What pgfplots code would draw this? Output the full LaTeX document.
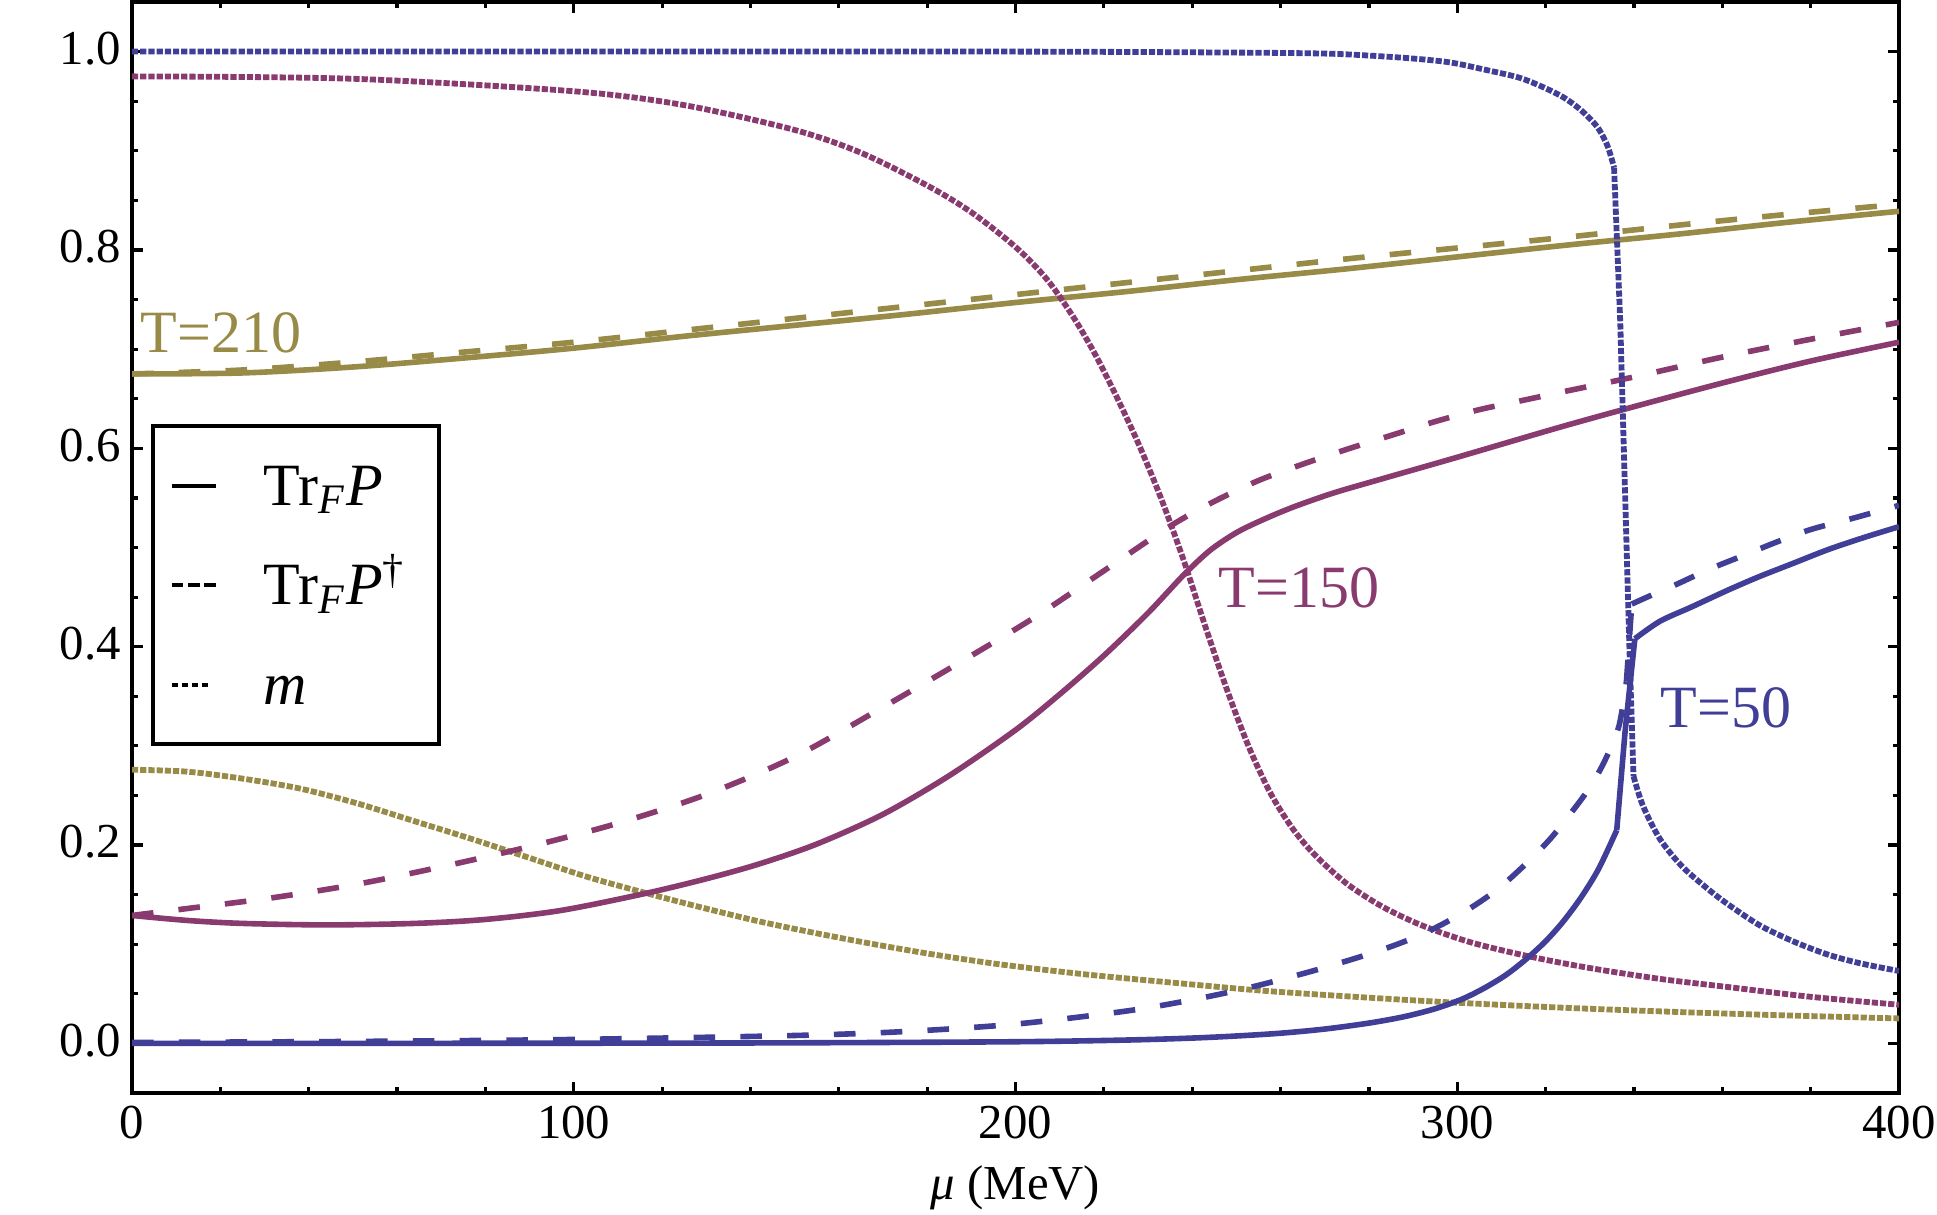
\documentclass[border=0pt]{standalone}
\usepackage{fontspec}
\setmainfont{Liberation Serif}
\usepackage{pgfplots}
\pgfplotsset{compat=1.18}
\definecolor{mblue}{RGB}{64,62,150}
\definecolor{mpurple}{RGB}{137,58,110}
\definecolor{molive}{RGB}{152,139,72}
\pgfplotsset{
 sol/.style={line width=1.4pt, solid, line join=round},
 das/.style={line width=1.4pt, dash pattern=on 5.4pt off 6.3pt},
 dot/.style={line width=1.45pt, dash pattern=on 1.55pt off 0.5pt},
}
\begin{document}
\begin{tikzpicture}
\begin{axis}[
  scale only axis,
  width=441.75pt, height=272.75pt,
  xmin=0, xmax=400, ymin=-0.05, ymax=1.05,
  xtick={0,100,200,300,400},
  ytick={0,0.2,0.4,0.6,0.8,1.0},
  minor x tick num=4, minor y tick num=3,
  tick align=inside,
  major tick length=2.8pt, minor tick length=1.6pt,
  tick style={black, line width=0.8pt},
  axis line style={line width=1.1pt},
  /pgf/number format/assume math mode=true,
  yticklabel style={/pgf/number format/.cd, fixed, fixed zerofill, precision=1, /tikz/.cd, inner xsep=2.6pt, yshift=0.8pt},
  xticklabel style={inner ysep=3pt},
  ticklabel style={font=\fontsize{12.2}{14}\selectfont},
  xlabel={\textit{μ} (MeV)},
  xlabel style={at={(axis description cs:0.5,0)}, anchor=base, yshift=-26.5pt, font=\fontsize{12.2}{14}\selectfont},
  legend style={
    at={(0.01075,0.6132)}, anchor=north west,
    draw=black, line width=1pt,
    inner xsep=4.15pt, inner ysep=10pt,
    row sep=15.1pt, column sep=11.4pt,
    font=\fontsize{15}{18}\selectfont,
    nodes={inner sep=0pt, text height=9.8pt, text depth=0pt, text width=39.6pt, align=left, anchor=west},
  },
  legend cell align=left,
]
% legend images
\addlegendimage{legend image code/.code={\draw[black, line width=1pt] (0pt,0pt) -- (11.1pt,0pt);}}
\addlegendentry{Tr\textsubscript{\textit{F}}\textit{P}}
\addlegendimage{legend image code/.code={\draw[black, line width=1pt, dash pattern=on 2.9pt off 1.2pt] (0pt,0pt) -- (11.1pt,0pt);}}
\addlegendentry{Tr\textsubscript{\textit{F}}\textit{P}\textsuperscript{†}}
\addlegendimage{legend image code/.code={\draw[black, line width=1pt, dash pattern=on 1.67pt off 0.83pt] (0pt,0pt) -- (9.2pt,0pt);}}
\addlegendentry{\textit{m}}

% ---------- T = 210 (olive) ----------
\addplot[molive, sol, smooth, forget plot] table {
0 0.675
25 0.676
50 0.682
75 0.691
100 0.701
125 0.713
150 0.724
175 0.735
200 0.747
225 0.758
250 0.770
275 0.781
300 0.793
325 0.805
350 0.816
375 0.828
400 0.839
};
\addplot[molive, das, smooth, forget plot] table {
0 0.675
25 0.679
50 0.687
75 0.697
100 0.707
125 0.719
150 0.731
175 0.743
200 0.755
225 0.767
250 0.779
275 0.791
300 0.802
325 0.813
350 0.825
375 0.836
400 0.846
};
\addplot[molive, dot, smooth, forget plot] table {
0 0.276
12.5 0.274
25 0.267
38 0.257
51 0.242
64 0.224
77 0.206
90 0.187
103 0.168
116 0.152
129 0.137
142 0.123
155 0.111
168 0.100
181 0.090
196 0.080
215 0.070
235 0.0615
255 0.0535
275 0.0475
298 0.0415
323 0.0362
346 0.0323
370 0.0288
400 0.0252
};

% ---------- T = 150 (purple) ----------
\addplot[mpurple, sol, smooth, forget plot] table {
0 0.129
12.5 0.124
25 0.121
44 0.1195
64 0.121
80 0.125
97 0.134
116 0.151
130 0.166
142 0.181
155 0.201
170 0.231
185 0.270
200 0.316
210 0.352
220 0.391
230 0.434
238 0.472
244 0.497
250 0.515
256 0.528
263 0.541
272 0.555
282 0.568
300 0.591
323 0.621
340 0.642
361 0.667
380 0.688
400 0.707
};
\addplot[mpurple, das, smooth, forget plot] table {
0 0.129
12.5 0.136
32 0.147
51.5 0.161
71 0.179
90.5 0.199
110 0.222
130 0.251
150 0.289
170 0.339
190 0.391
205 0.4315
220 0.4765
235 0.5215
245 0.5465
255 0.5675
265 0.584
275 0.599
285 0.613
295 0.627
305 0.639
315 0.6485
325 0.658
340 0.672
360 0.692
380 0.710
400 0.727
};
\addplot[mpurple, dot, smooth, forget plot] table {
0 0.975
50 0.9726
100 0.960
125 0.946
150 0.921
165 0.898
180 0.865
190 0.838
200 0.803
207 0.771
213 0.733
218 0.695
223 0.651
228 0.603
233 0.549
238 0.488
243 0.420
248 0.355
253 0.297
258 0.250
263 0.215
268 0.189
275 0.161
283 0.138
292 0.119
303 0.102
316 0.088
330 0.076
346 0.065
361 0.057
380 0.047
400 0.039
};

% ---------- T = 50 (blue) ----------
\addplot[mblue, sol, smooth, forget plot] table {
0 0.000
100 0.0002
150 0.0006
200 0.0017
225 0.0034
240 0.0054
250 0.0075
260 0.0103
270 0.0145
280 0.0205
288 0.027
295 0.035
301 0.0445
306 0.0555
311 0.069
315.6 0.085
320 0.103
324 0.123
328 0.147
332 0.176
336.1 0.215
};
\addplot[mblue, sol, forget plot] table {
336.1 0.215
338 0.315
340.2 0.408
};
\addplot[mblue, sol, smooth, forget plot] table {
340.2 0.408
345.9 0.4257
353 0.440
361 0.4565
368 0.470
376 0.484
384 0.498
392 0.510
400 0.521
};
\addplot[mblue, das, smooth, forget plot] table {
0 0.001
50 0.002
100 0.004
150 0.008
175 0.012
200 0.0195
225 0.0326
240 0.044
253.6 0.057
268 0.074
282 0.093
292 0.110
301 0.131
309 0.155
316 0.183
321 0.206
325 0.228
330 0.258
333.5 0.286
336.6 0.320
338.3 0.365
};
\addplot[mblue, das, forget plot] table {
338.3 0.365
339.5 0.443
};
\addplot[mblue, das, smooth, forget plot] table {
339.5 0.443
344 0.452
349.7 0.463
357 0.478
364.8 0.492
372 0.505
379.9 0.518
390 0.530
400 0.5425
};
\addplot[mblue, dot, smooth, forget plot] table {
0 1.000
100 1.000
200 1.000
250 0.999
270 0.998
280 0.996
290 0.993
298.5 0.989
306 0.982
313.8 0.974
319 0.965
324 0.954
328 0.941
331.7 0.924
334 0.905
335.5 0.883
};
\addplot[mblue, dot, forget plot] table {
335.5 0.883
336.9 0.727
338 0.553
339.1 0.379
339.9 0.2695
};
\addplot[mblue, dot, smooth, forget plot] table {
339.9 0.2695
342 0.240
345.9 0.206
351 0.178
357.2 0.154
362 0.138
368.5 0.119
376 0.103
383.6 0.090
391 0.081
400 0.073
};

% labels
\node[anchor=base west, inner sep=0pt, text=molive, font=\fontsize{15}{18}\selectfont] at (axis cs:1.8,0.697) {T=210};
\node[anchor=base west, inner sep=0pt, text=mpurple, font=\fontsize{15}{18}\selectfont] at (axis cs:245.8,0.4393) {T=150};
\node[anchor=base west, inner sep=0pt, text=mblue, font=\fontsize{15}{18}\selectfont] at (axis cs:345.9,0.3187) {T=50};
\end{axis}
\pgfresetboundingbox
\path[use as bounding box] ([xshift=-33pt,yshift=-30.25pt]current axis.south west) rectangle ([xshift=9.5pt,yshift=0.5pt]current axis.north east);
\end{tikzpicture}
\end{document}
